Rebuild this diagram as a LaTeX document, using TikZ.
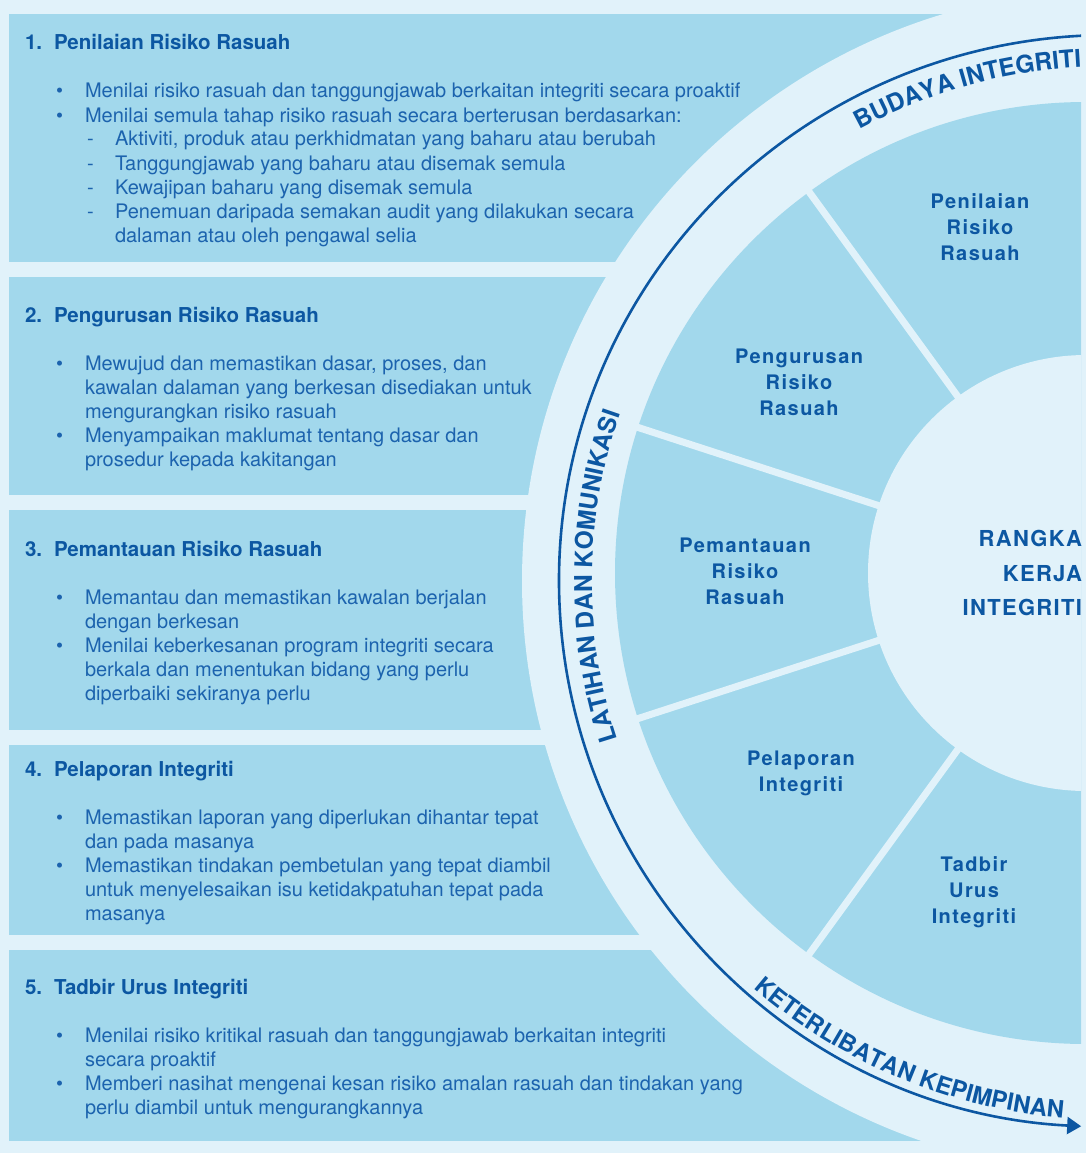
\documentclass[tikz,border=0pt]{standalone}
\usepackage{fontspec}
\setmainfont{TeX Gyre Heros}
\usetikzlibrary{arrows.meta,decorations.text}
\definecolor{bgc}{HTML}{E1F2FA}
\definecolor{panelc}{HTML}{A2D8EC}
\definecolor{bodyc}{HTML}{1C63AE}
\definecolor{headc}{HTML}{0C57A2}
\newcommand{\pathfont}{\fontsize{24.5}{24.5}\selectfont\bfseries}
\newcommand{\pathfontb}{\fontsize{23.8}{23.8}\selectfont\bfseries}
\begin{document}
\begin{tikzpicture}[x=1pt,y=-1pt,
  body/.style={anchor=base west,inner sep=0pt,outer sep=0pt,text=bodyc,font=\fontsize{20}{24}\selectfont},
  head/.style={anchor=base west,inner sep=0pt,outer sep=0pt,text=headc,font=\fontsize{20.5}{24}\selectfont\bfseries},
  seglabel/.style={inner sep=0pt,outer sep=0pt,text=headc,align=center,font=\fontsize{20}{26}\selectfont\bfseries\addfontfeatures{LetterSpace=7}},
  corelabel/.style={inner sep=0pt,outer sep=0pt,text=headc,align=right,anchor=east,font=\fontsize{22}{34.5}\selectfont\bfseries\addfontfeatures{LetterSpace=6}},
  spoke/.style={draw=bgc,line width=7pt},
  pathtext/.style={decorate,decoration={text along path,text align=center,text color=headc}}
]
\path[use as bounding box,fill=bgc] (0,0) rectangle (1086,1153);
\coordinate (wc) at (1086,573);
\coordinate (bc) at (1114,581);
\coordinate (lc) at (1110,581);

\begin{scope}
\clip (9,14) rectangle (1081,1141);
% panels
\fill[panelc] (9,14) rectangle (1081,262);
\fill[panelc] (9,277) rectangle (1081,495);
\fill[panelc] (9,510) rectangle (1081,730);
\fill[panelc] (9,745) rectangle (1081,935);
\fill[panelc] (9,950) rectangle (1081,1141);
% light band
\fill[bgc] (bc) circle[radius=592];
% wheel
\fill[panelc] (wc) circle[radius=471];
\foreach \a in {126,162,198,234}{
  \draw[spoke] (wc) +(\a:200) -- +(\a:480);
}
\fill[bgc] (wc) circle[radius=218];
\end{scope}

% panel 1
\node[head] (h1n) at (25,50) {1.};
\node[head] (h1) at (54,50) {Penilaian Risiko Rasuah};
\node[body] (b1a) at (56,98) {\textbullet};
\node[body] (t1a) at (85,98) {Menilai risiko rasuah dan tanggungjawab berkaitan integriti secara proaktif};
\node[body] (b1b) at (56,122) {\textbullet};
\node[body] (t1b) at (85,122) {Menilai semula tahap risiko rasuah secara berterusan berdasarkan:};
\node[body] (d1a) at (87,146) {-};
\node[body] (t1c) at (115,146) {Aktiviti, produk atau perkhidmatan yang baharu atau berubah};
\node[body] (d1b) at (87,170) {-};
\node[body] (t1d) at (115,170) {Tanggungjawab yang baharu atau disemak semula};
\node[body] (d1c) at (87,194) {-};
\node[body] (t1e) at (115,194) {Kewajipan baharu yang disemak semula};
\node[body] (d1d) at (87,218) {-};
\node[body] (t1f) at (115,218) {Penemuan daripada semakan audit yang dilakukan secara};
\node[body] (t1g) at (115,242) {dalaman atau oleh pengawal selia};

% panel 2
\node[head] (h2n) at (25,322) {2.};
\node[head] (h2) at (54,322) {Pengurusan Risiko Rasuah};
\node[body] (b2a) at (56,370) {\textbullet};
\node[body] (t2a) at (85,370) {Mewujud dan memastikan dasar, proses, dan};
\node[body] (t2b) at (85,394) {kawalan dalaman yang berkesan disediakan untuk};
\node[body] (t2c) at (85,418) {mengurangkan risiko rasuah};
\node[body] (b2b) at (56,442) {\textbullet};
\node[body] (t2d) at (85,442) {Menyampaikan maklumat tentang dasar dan};
\node[body] (t2e) at (85,466) {prosedur kepada kakitangan};

% panel 3
\node[head] (h3n) at (25,556) {3.};
\node[head] (h3) at (54,556) {Pemantauan Risiko Rasuah};
\node[body] (b3a) at (56,604) {\textbullet};
\node[body] (t3a) at (85,604) {Memantau dan memastikan kawalan berjalan};
\node[body] (t3b) at (85,628) {dengan berkesan};
\node[body] (b3b) at (56,652) {\textbullet};
\node[body] (t3c) at (85,652) {Menilai keberkesanan program integriti secara};
\node[body] (t3d) at (85,676) {berkala dan menentukan bidang yang perlu};
\node[body] (t3e) at (85,700) {diperbaiki sekiranya perlu};

% panel 4
\node[head] (h4n) at (25,776) {4.};
\node[head] (h4) at (54,776) {Pelaporan Integriti};
\node[body] (b4a) at (56,824) {\textbullet};
\node[body] (t4a) at (85,824) {Memastikan laporan yang diperlukan dihantar tepat};
\node[body] (t4b) at (85,848) {dan pada masanya};
\node[body] (b4b) at (56,872) {\textbullet};
\node[body] (t4c) at (85,872) {Memastikan tindakan pembetulan yang tepat diambil};
\node[body] (t4d) at (85,896) {untuk menyelesaikan isu ketidakpatuhan tepat pada};
\node[body] (t4e) at (85,920) {masanya};

% panel 5
\node[head] (h5n) at (25,994) {5.};
\node[head] (h5) at (54,994) {Tadbir Urus Integriti};
\node[body] (b5a) at (56,1042) {\textbullet};
\node[body] (t5a) at (85,1042) {Menilai risiko kritikal rasuah dan tanggungjawab berkaitan integriti};
\node[body] (t5b) at (85,1066) {secara proaktif};
\node[body] (b5b) at (56,1090) {\textbullet};
\node[body] (t5c) at (85,1090) {Memberi nasihat mengenai kesan risiko amalan rasuah dan tindakan yang};
\node[body] (t5d) at (85,1114) {perlu diambil untuk mengurangkannya};

% wheel labels
\node[seglabel] (s1) at (980,227) {Penilaian\\Risiko\\Rasuah};
\node[seglabel] (s2) at (799,382) {Pengurusan\\Risiko\\Rasuah};
\node[seglabel] (s3) at (745,571) {Pemantauan\\Risiko\\Rasuah};
\node[seglabel] (s4) at (801,773) {Pelaporan\\Integriti};
\node[seglabel] (s5) at (974,892) {Tadbir\\Urus\\Integriti};
\node[corelabel] (core) at (1082,573) {RANGKA\\KERJA\\INTEGRITI};

% outer arrow line
\draw[headc,line width=2.6pt,-{Triangle[length=14pt,width=17pt]}]
  (lc) ++(267:551 and 546) arc[start angle=267,end angle=93,x radius=551,y radius=546];

% texts along the arc
\path[pathtext,decoration={text={|\pathfont|BUDAYA INTEGRITI}}]
  (lc) ++(224:520 and 515) arc[start angle=224,end angle=284,x radius=520,y radius=515];
\path[pathtext,decoration={text={|\pathfont|LATIHAN DAN KOMUNIKASI}}]
  (lc) ++(150:518 and 513) arc[start angle=150,end angle=211,x radius=518,y radius=513];
\path[pathtext,decoration={text={|\pathfontb|KETERLIBATAN KEPIMPINAN}}]
  (lc) ++(147:544 and 539) arc[start angle=147,end angle=79,x radius=544,y radius=539];
\end{tikzpicture}
\end{document}
